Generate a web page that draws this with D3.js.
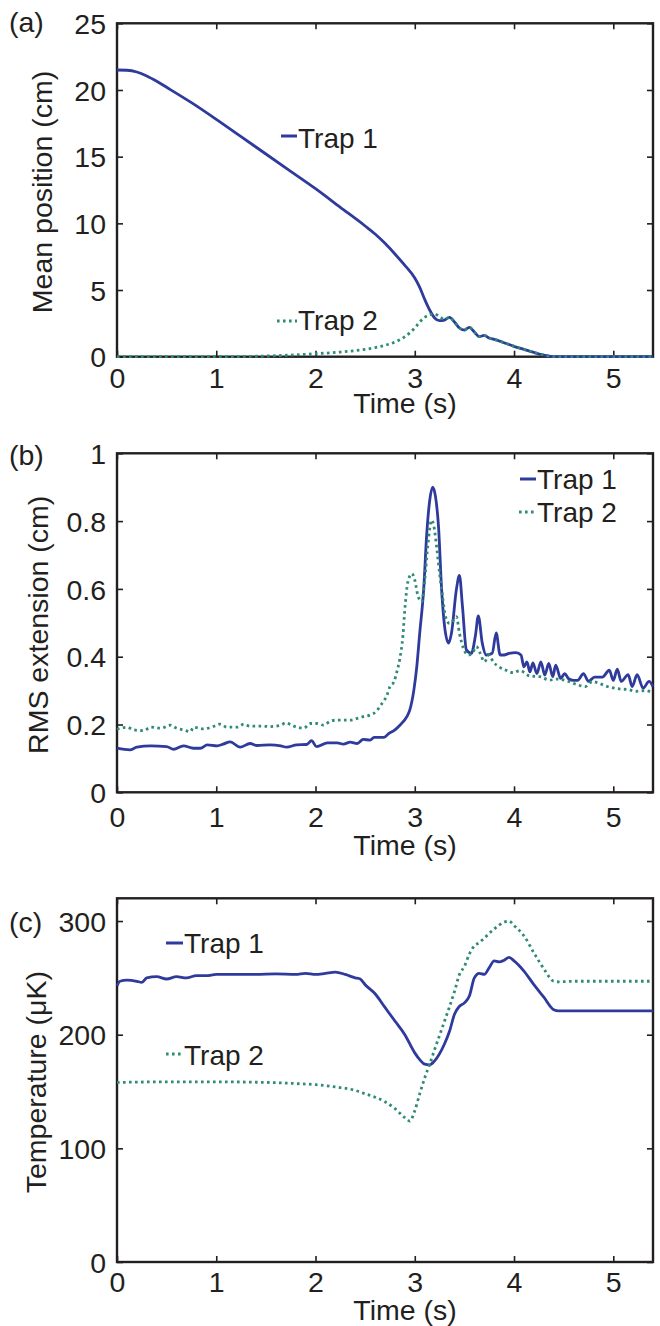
<!DOCTYPE html>
<html><head><meta charset="utf-8">
<script src="https://cdn.jsdelivr.net/npm/d3@7"></script>
<style>
body{margin:0;background:#fff}
svg{display:block}
text{font-family:"Liberation Sans",Arial,Helvetica,sans-serif;fill:#231f20}
</style>
</head><body>
<svg id="chart" width="660" height="1326"></svg>
<script>
// ---------- data ----------
const timeTicks = [0, 1, 2, 3, 4, 5];
const posTicks = [0, 5, 10, 15, 20, 25];
const rmsTicks = [0, 0.2, 0.4, 0.6, 0.8, 1];
const tempTicks = [0, 100, 200, 300];
const seriesNames = ["Trap 1", "Trap 2"];

// (a) mean position (cm)
const posTime1 = [0,0.1,0.2,0.3,0.4,0.5,0.75,1,1.25,1.5,1.75,2,2.25,2.5,2.6,2.7,2.8,2.9,3,3.05,3.1,3.15,3.2,3.25,3.3,3.35,3.4,3.45,3.5,3.55,3.6,3.65,3.7,3.75,3.8,3.9,4,4.1,4.2,4.3,4.4,4.6,4.8,5,5.2,5.4];
const posTrap1 = [21.5,21.48,21.35,21.05,20.65,20.2,19.05,17.8,16.5,15.2,13.9,12.6,11.2,9.8,9.2,8.5,7.7,6.85,5.9,5.2,4.3,3.5,2.9,2.7,2.75,2.95,2.6,2.15,2.0,2.2,1.85,1.5,1.6,1.4,1.3,1.05,0.78,0.55,0.32,0.12,0,0,0,0,0,0];
const posTime2 = [0,0.5,1,1.5,1.75,2,2.25,2.5,2.6,2.7,2.8,2.9,2.95,3,3.05,3.1,3.15,3.2,3.25,3.3,3.35,3.4,3.45,3.5,3.55,3.6,3.65,3.7,3.75,3.8,3.9,4,4.1,4.2,4.3,4.4,4.6,4.8,5,5.2,5.4];
const posTrap2 = [0,0,0,0.05,0.12,0.22,0.35,0.55,0.68,0.85,1.1,1.5,1.8,2.15,2.6,2.95,3.15,3.2,3.0,2.8,2.95,2.6,2.15,2.0,2.2,1.85,1.5,1.6,1.4,1.3,1.05,0.78,0.55,0.32,0.12,0,0,0,0,0,0];

// (b) RMS extension (cm)
const rmsTime1 = [0,0.13,0.2,0.34,0.5,0.57,0.67,0.77,0.84,0.91,1.01,1.07,1.14,1.24,1.34,1.41,1.54,1.65,1.71,1.81,1.91,1.96,2.01,2.12,2.22,2.28,2.35,2.42,2.48,2.55,2.59,2.69,2.74,2.79,2.85,2.92,2.95,2.99,3.02,3.05,3.09,3.12,3.15,3.18,3.21,3.24,3.27,3.30,3.34,3.37,3.42,3.45,3.48,3.52,3.57,3.61,3.64,3.68,3.72,3.78,3.82,3.86,3.90,3.95,4.02,4.07,4.10,4.13,4.16,4.19,4.23,4.27,4.31,4.35,4.39,4.42,4.47,4.51,4.55,4.60,4.64,4.70,4.75,4.81,4.89,4.96,5.00,5.04,5.08,5.15,5.19,5.24,5.30,5.36,5.40];
const rmsTrap1 = [0.130,0.125,0.133,0.137,0.135,0.127,0.137,0.130,0.130,0.140,0.137,0.142,0.149,0.133,0.144,0.138,0.140,0.137,0.133,0.140,0.141,0.152,0.135,0.146,0.146,0.142,0.148,0.144,0.156,0.154,0.162,0.162,0.174,0.182,0.198,0.223,0.243,0.30,0.37,0.47,0.60,0.76,0.86,0.90,0.87,0.78,0.60,0.49,0.44,0.47,0.60,0.64,0.55,0.42,0.41,0.46,0.52,0.44,0.405,0.41,0.47,0.405,0.405,0.41,0.412,0.405,0.37,0.385,0.355,0.382,0.35,0.385,0.346,0.38,0.341,0.375,0.336,0.35,0.335,0.33,0.33,0.35,0.327,0.34,0.34,0.36,0.33,0.363,0.327,0.347,0.312,0.347,0.307,0.327,0.312];
const rmsTime2 = [0,0.10,0.17,0.27,0.34,0.44,0.54,0.60,0.67,0.74,0.77,0.87,0.97,1.04,1.11,1.21,1.28,1.34,1.44,1.54,1.65,1.70,1.78,1.88,1.95,2.01,2.08,2.15,2.22,2.28,2.35,2.42,2.48,2.55,2.62,2.65,2.72,2.75,2.79,2.82,2.85,2.88,2.90,2.93,2.97,3.00,3.03,3.07,3.10,3.13,3.17,3.19,3.22,3.25,3.28,3.31,3.35,3.39,3.42,3.45,3.49,3.54,3.59,3.62,3.66,3.70,3.75,3.79,3.85,3.92,3.99,4.06,4.16,4.26,4.36,4.43,4.55,4.64,4.72,4.79,4.85,4.94,5.06,5.15,5.23,5.32,5.40];
const rmsTrap2 = [0.186,0.192,0.184,0.182,0.192,0.189,0.198,0.189,0.184,0.179,0.192,0.187,0.194,0.201,0.192,0.192,0.201,0.195,0.195,0.194,0.198,0.205,0.195,0.189,0.203,0.203,0.198,0.210,0.213,0.213,0.213,0.218,0.223,0.228,0.241,0.254,0.287,0.312,0.326,0.356,0.395,0.46,0.54,0.62,0.645,0.626,0.582,0.562,0.626,0.724,0.803,0.789,0.724,0.646,0.577,0.518,0.498,0.508,0.518,0.469,0.425,0.405,0.415,0.43,0.41,0.385,0.405,0.385,0.37,0.36,0.353,0.359,0.343,0.341,0.331,0.334,0.327,0.317,0.312,0.327,0.322,0.312,0.305,0.303,0.298,0.30,0.293];

// (c) temperature (uK)
const tempTime1 = [0,0.03,0.1,0.2,0.25,0.3,0.4,0.5,0.6,0.7,0.8,0.9,1.0,1.2,1.4,1.6,1.8,1.9,2.0,2.1,2.2,2.3,2.4,2.45,2.5,2.6,2.7,2.8,2.9,3.0,3.05,3.1,3.15,3.2,3.3,3.35,3.4,3.45,3.5,3.55,3.6,3.65,3.7,3.75,3.8,3.85,3.9,3.95,4.0,4.1,4.2,4.3,4.4,4.45,4.6,4.8,5.0,5.2,5.4];
const tempTrap1 = [243,247,248,247,246,250,251,249,251,250,252,252,253,253,253,253.5,253,254,253,254,255,253,250,249,244,236,224,212,200,184,178,174,173.5,177,192,203,218,225,228,234,250,254,253,259,265,264,265.5,268,265,256,244,233,222,221,221,221,221,221,221];
const tempTime2 = [0,0.5,1.0,1.5,1.8,2.0,2.2,2.4,2.5,2.6,2.7,2.8,2.9,2.95,3.0,3.05,3.1,3.15,3.2,3.3,3.4,3.45,3.5,3.55,3.6,3.65,3.7,3.8,3.9,3.95,4.0,4.1,4.2,4.3,4.4,4.45,4.6,4.8,5.0,5.2,5.4];
const tempTrap2 = [158,158.5,158.5,158,157,156,154,151,148,145,141,135,127,124,133,148,162,174,187,212,238,253,260,271,278,281,285,293,299,300,296,287,272,258,247,246.5,247,247,247,247,247];

// ---------- drawing ----------
const C1 = "#2e3a9c", C2 = "#2f8a76", INK = "#231f20";
const FS = 28.5;
const svg = d3.select("#chart");
const X0 = 117, X1 = 653;
const x = d3.scaleLinear().domain([0, 5.4]).range([X0, X1]);
const zip = (t, v) => t.map((d, i) => [d, v[i]]);

const panels = [
  {tag:"(a)", tagY:32, top:23.3, bottom:356.7, yDomain:[0,25], yTicks:posTicks, xLabOff:31.3, titleY:413,
   yLabel:"Mean position (cm)", yLabX:52,
   s1:zip(posTime1,posTrap1), s2:zip(posTime2,posTrap2),
   leg:[{x:281,y:136,tx:298,ty:148},{x:277,y:321,tx:298,ty:330}]},
  {tag:"(b)", tagY:465, top:453.3, bottom:792.3, yDomain:[0,1], yTicks:rmsTicks, xLabOff:34.5, titleY:854.5,
   yLabel:"RMS extension (cm)", yLabX:48,
   s1:zip(rmsTime1,rmsTrap1), s2:zip(rmsTime2,rmsTrap2),
   leg:[{x:520,y:479,tx:537,ty:489},{x:519,y:512,tx:537,ty:522}]},
  {tag:"(c)", tagY:932, top:898.3, bottom:1262, yDomain:[0,320], yTicks:tempTicks, xLabOff:30, titleY:1320,
   yLabel:"Temperature (\u03bcK)", yLabX:46,
   s1:zip(tempTime1,tempTrap1), s2:zip(tempTime2,tempTrap2),
   leg:[{x:166,y:943,tx:184,ty:953},{x:166,y:1054,tx:184,ty:1065}]}
];

panels.forEach(p => {
  const y = d3.scaleLinear().domain(p.yDomain).range([p.bottom, p.top]);
  const g = svg.append("g");
  const axis = (gen, tr) => g.append("g").attr("transform", tr)
      .call(gen).attr("font-size", FS).attr("font-family", null);

  const b = axis(d3.axisBottom(x).tickValues(timeTicks).tickSizeInner(-6).tickSizeOuter(0).tickFormat(d => d), `translate(0,${p.bottom})`);
  b.selectAll("text").attr("y", p.xLabOff).attr("dy", null);
  axis(d3.axisTop(x).tickValues(timeTicks).tickSizeInner(-6).tickSizeOuter(0).tickFormat(""), `translate(0,${p.top})`);
  const l = axis(d3.axisLeft(y).tickValues(p.yTicks).tickSizeInner(-6).tickSizeOuter(0).tickFormat(d => String(d)), `translate(${X0},0)`);
  l.selectAll("text").attr("x", -11).attr("dy", "0.36em");
  axis(d3.axisRight(y).tickValues(p.yTicks).tickSizeInner(-6).tickSizeOuter(0).tickFormat(""), `translate(${X1},0)`);
  g.selectAll(".domain").remove();
  g.selectAll(".tick line").attr("stroke", INK).attr("stroke-width", 1.6);
  g.selectAll(".tick text").style("fill", INK);

  g.append("rect").attr("x", X0).attr("y", p.top).attr("width", X1 - X0).attr("height", p.bottom - p.top)
    .attr("fill", "none").attr("stroke", INK).attr("stroke-width", 2.4);

  const line = d3.line().x(d => x(d[0])).y(d => y(d[1])).curve(d3.curveMonotoneX);
  g.append("path").datum(p.s1).attr("d", line).attr("fill", "none")
    .attr("stroke", C1).attr("stroke-width", 2.8).attr("stroke-linejoin", "round");
  g.append("path").datum(p.s2).attr("d", line).attr("fill", "none")
    .attr("stroke", C2).attr("stroke-width", 2.8).attr("stroke-dasharray", "2.6,3.4");

  // legend
  const [l1, l2] = p.leg;
  g.append("line").attr("x1", l1.x).attr("x2", l1.tx - 1).attr("y1", l1.y).attr("y2", l1.y)
    .attr("stroke", C1).attr("stroke-width", 3);
  g.append("text").attr("x", l1.tx).attr("y", l1.ty).attr("font-size", FS - 0.5).text(seriesNames[0]);
  g.append("line").attr("x1", l2.x).attr("x2", l2.tx - 1).attr("y1", l2.y).attr("y2", l2.y)
    .attr("stroke", C2).attr("stroke-width", 2.8).attr("stroke-dasharray", "2.6,3.4");
  g.append("text").attr("x", l2.tx).attr("y", l2.ty).attr("font-size", FS - 0.5).text(seriesNames[1]);

  // labels
  g.append("text").attr("x", 9).attr("y", p.tagY).attr("font-size", FS).text(p.tag);
  g.append("text").attr("x", 405).attr("y", p.titleY).attr("text-anchor", "middle").attr("font-size", FS).text("Time (s)");
  const cy = (p.top + p.bottom) / 2 + 2;
  g.append("text").attr("transform", `translate(${p.yLabX},${cy}) rotate(-90)`)
    .attr("text-anchor", "middle").attr("font-size", FS).text(p.yLabel);
});
</script>
</body></html>
